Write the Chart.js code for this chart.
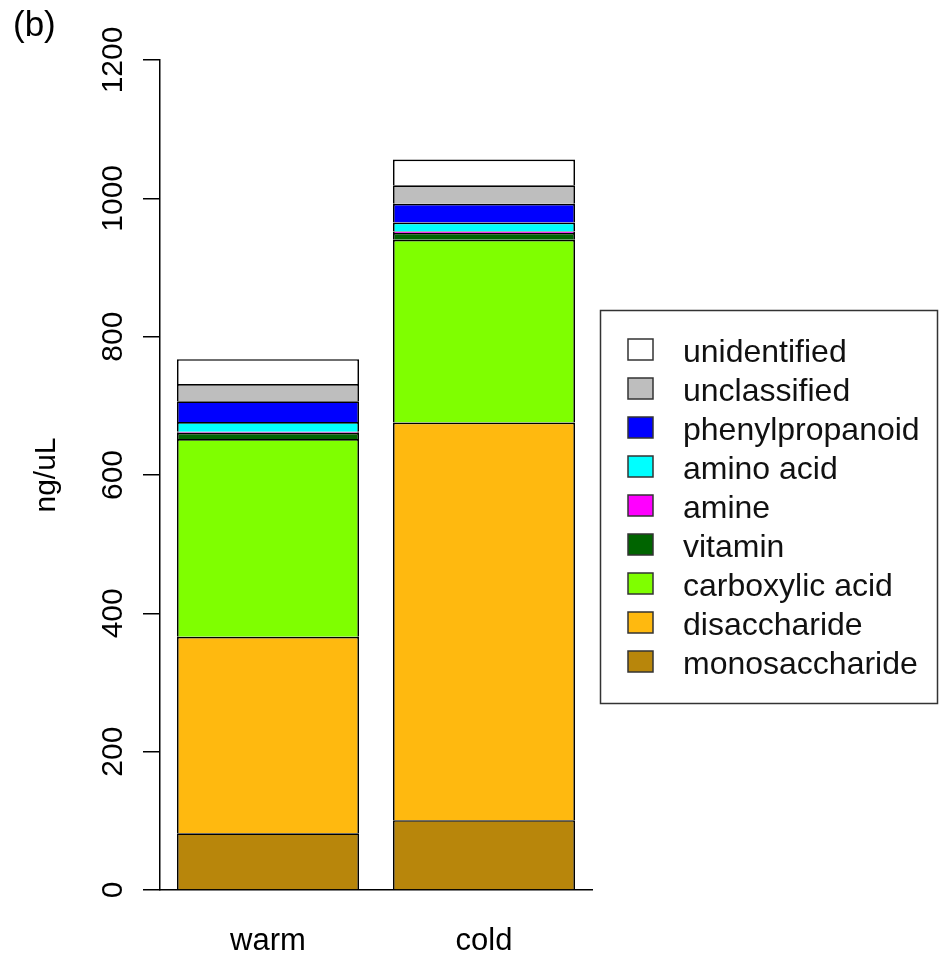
<!DOCTYPE html>
<html>
<head>
<meta charset="utf-8">
<script src="https://cdn.jsdelivr.net/npm/chart.js@4.4.1/dist/chart.umd.min.js"></script>
<style>
  html, body { margin: 0; padding: 0; background: #fff; }
  #wrap { width: 940px; height: 957px; }
</style>
</head>
<body>
<div id="wrap"><canvas id="c" width="940" height="957"></canvas></div>
<script>
// ---- data ----
const categories = ['warm', 'cold'];
const monosaccharide = [82, 101];
const disaccharide = [284, 575];
const carboxylicAcid = [286, 264];
const vitamin = [9, 10];
const amine = [1.5, 2];
const aminoAcid = [14, 13];
const phenylpropanoid = [30, 27];
const unclassified = [25, 27];
const unidentified = [36, 37];
const yTickValues = [0, 200, 400, 600, 800, 1000, 1200];
const yTitle = 'ng/uL';
const panelLabel = '(b)';

const seriesNames = ['monosaccharide', 'disaccharide', 'carboxylic acid', 'vitamin', 'amine', 'amino acid', 'phenylpropanoid', 'unclassified', 'unidentified'];
const seriesValues = [monosaccharide, disaccharide, carboxylicAcid, vitamin, amine, aminoAcid, phenylpropanoid, unclassified, unidentified];
const seriesColors = ['#B8860B', '#FFB90F', '#7FFF00', '#006400', '#FF00FF', '#00FFFF', '#0000FF', '#BEBEBE', '#FFFFFF'];

const FONT = '"Liberation Sans", Arial, Helvetica, sans-serif';
Chart.defaults.font.family = FONT;

const datasets = seriesNames.map((name, i) => ({
  label: name,
  data: seriesValues[i],
  backgroundColor: seriesColors[i],
  borderColor: '#000',
  borderWidth: 1.7,
  borderSkipped: 'start',
  barPercentage: 0.843,
  categoryPercentage: 1.0
}));

const decorPlugin = {
  id: 'decor',
  afterDraw(chart) {
    const ctx = chart.ctx;
    const ys = chart.scales.y;
    const xs = chart.scales.x;
    const area = chart.chartArea;
    ctx.save();
    ctx.fillStyle = '#000';

    // y tick labels (rotated, like R)
    ctx.font = '30px ' + FONT;
    ctx.textAlign = 'center';
    ctx.textBaseline = 'alphabetic';
    yTickValues.forEach(v => {
      const py = ys.getPixelForValue(v);
      ctx.save();
      ctx.translate(122, py);
      ctx.rotate(-Math.PI / 2);
      ctx.fillText(String(v), 0, 0);
      ctx.restore();
    });

    // y title
    ctx.save();
    ctx.font = '30px ' + FONT;
    ctx.translate(55, (area.top + area.bottom) / 2);
    ctx.rotate(-Math.PI / 2);
    ctx.fillText(yTitle, 0, 0);
    ctx.restore();

    // x category labels
    ctx.font = '31px ' + FONT;
    ctx.textAlign = 'center';
    chart.data.labels.forEach((lab, i) => {
      ctx.fillText(lab, xs.getPixelForTick(i), 950);
    });

    // panel label
    ctx.font = '35px ' + FONT;
    ctx.textAlign = 'left';
    ctx.fillText(panelLabel, 13, 36);

    // legend (reversed order, top = last series)
    const lx = 600, ly = 310, lw = 337, lh = 393;
    ctx.strokeStyle = '#333';
    ctx.lineWidth = 1.5;
    ctx.strokeRect(lx + 0.5, ly + 0.5, lw, lh);
    ctx.font = '32px ' + FONT;
    ctx.textAlign = 'left';
    const ds = chart.data.datasets;
    for (let k = 0; k < ds.length; k++) {
      const d = ds[ds.length - 1 - k];
      const rowY = 350 + k * 39;
      ctx.fillStyle = d.backgroundColor;
      ctx.fillRect(628, rowY - 11, 25, 21);
      ctx.strokeStyle = '#333';
      ctx.lineWidth = 1.5;
      ctx.strokeRect(628, rowY - 11, 25, 21);
      ctx.fillStyle = '#111';
      ctx.fillText(d.label, 683, rowY + 11.7);
    }
    ctx.restore();
  }
};

new Chart(document.getElementById('c'), {
  type: 'bar',
  data: { labels: categories, datasets },
  options: {
    responsive: false,
    animation: false,
    devicePixelRatio: 1,
    events: [],
    layout: { padding: { left: 143, top: 60, right: 348, bottom: 67 } },
    plugins: { legend: { display: false }, tooltip: { enabled: false }, title: { display: false } },
    scales: {
      x: {
        stacked: true,
        grid: { display: false },
        border: { display: true, color: '#000', width: 1.5 },
        ticks: { display: false },
        afterFit: s => { s.height = 0; }
      },
      y: {
        stacked: true,
        min: 0,
        max: 1200,
        afterBuildTicks: s => { s.ticks = yTickValues.map(v => ({ value: v })); },
        grid: { display: true, drawOnChartArea: false, drawTicks: true, tickLength: 17, color: '#000', lineWidth: 1.5 },
        border: { display: true, color: '#000', width: 1.5 },
        ticks: { display: false },
        afterFit: s => { s.width = 17; }
      }
    }
  },
  plugins: [decorPlugin]
});
</script>
</body>
</html>
